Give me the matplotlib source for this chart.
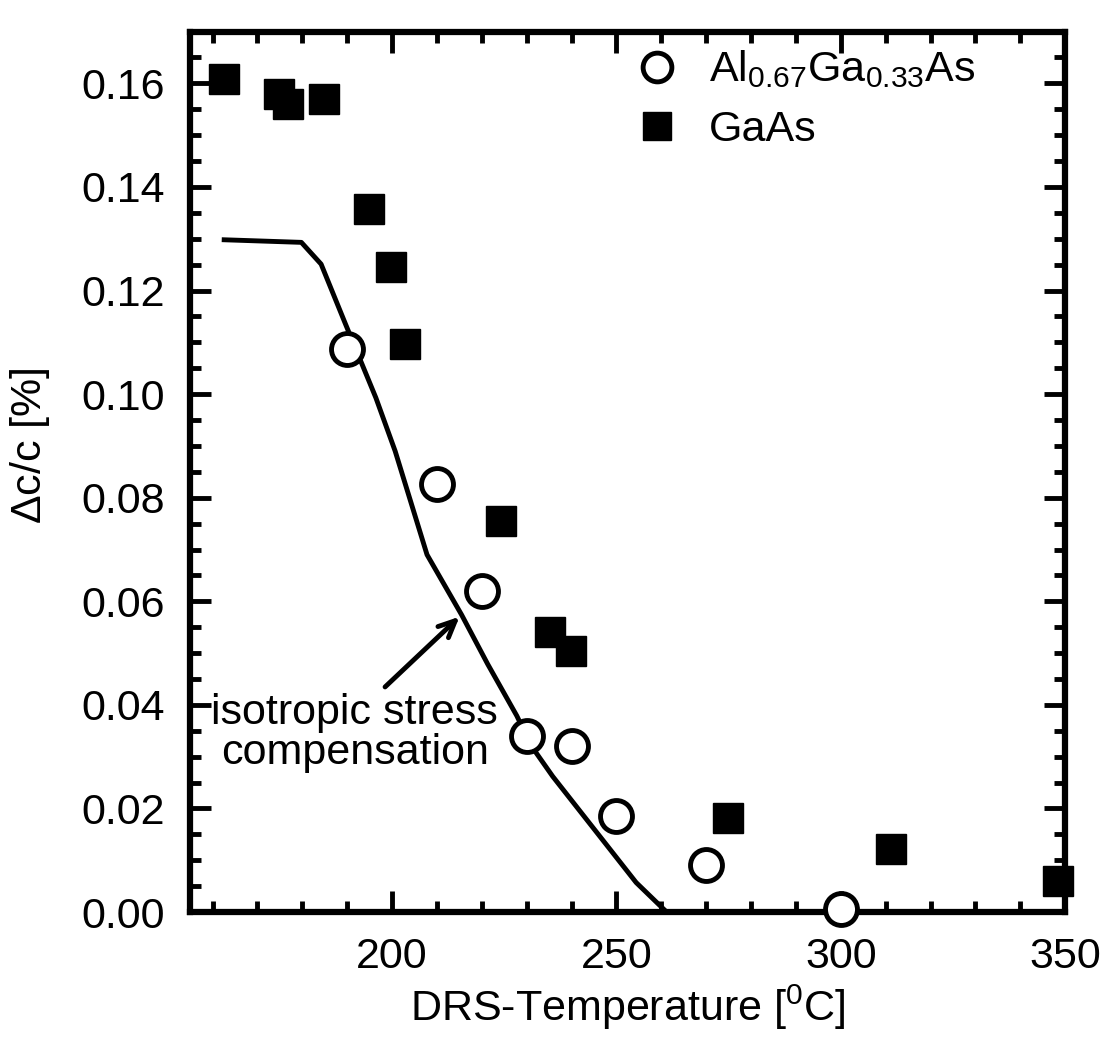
import matplotlib
matplotlib.use("Agg")
import matplotlib.pyplot as plt
from matplotlib.ticker import MultipleLocator

plt.rcParams['font.family'] = ['Liberation Sans', 'DejaVu Sans']
plt.rcParams['mathtext.fontset'] = 'custom'
plt.rcParams['mathtext.rm'] = 'Liberation Sans'
plt.rcParams['mathtext.it'] = 'Liberation Sans:italic'

# AlGaAs (open circles)
algaas_t = [190, 210, 220, 230, 240, 250, 270, 300]
algaas_dc = [0.1088, 0.0826, 0.0619, 0.0340, 0.0320, 0.0186, 0.0091, 0.0005]

# GaAs (filled squares)
gaas_t = [162.5, 174.8, 176.8, 184.9, 194.9, 199.8, 203.0, 224.2, 235.3, 239.9, 274.8, 311.1, 348.3]
gaas_dc = [0.1608, 0.1580, 0.1560, 0.1570, 0.1357, 0.1246, 0.1097, 0.0756, 0.0540, 0.0505, 0.0181,
           0.0121, 0.0060]

# isotropic stress compensation curve
curve_t = [162.6, 179.8, 184.2, 189.6, 196.4, 200.7, 207.8, 215.5, 221.3, 227.8, 231.1, 235.8, 254.4, 261.2]
curve_dc = [0.1298, 0.1293, 0.1251, 0.1136, 0.0993, 0.0890, 0.0690, 0.0574, 0.0479, 0.0379, 0.0320,
            0.0262, 0.0057, 0.0]

fs = 31

fig = plt.figure(figsize=(11.05, 10.52), dpi=100)
ax = fig.add_axes([0.172, 0.133, 0.792, 0.837])

ax.plot(curve_t, curve_dc, color='black', lw=3.5, zorder=2)
ax.plot(algaas_t, algaas_dc, 'o', ms=23, mfc='white', mec='black', mew=3.5,
        label=r'Al$_{\mathrm{0.67}}$Ga$_{\mathrm{0.33}}$As', zorder=3, clip_on=False)
ax.plot(gaas_t, gaas_dc, 's', ms=22, mfc='black', mec='black', mew=1,
        label='GaAs', zorder=3, clip_on=False)

ax.text(191.7, 0.0345, 'isotropic stress\ncompensation', ha='center', va='center',
        fontsize=fs, linespacing=1.0)
ax.annotate('', xy=(215.5, 0.0574), xytext=(198.0, 0.0431),
            arrowprops=dict(arrowstyle='->,head_length=1.2,head_width=0.55', color='black', lw=3.5))

ax.set_xlim(155, 350)
ax.set_ylim(0, 0.17)
ax.xaxis.set_major_locator(MultipleLocator(50))
ax.xaxis.set_minor_locator(MultipleLocator(10))
ax.yaxis.set_major_locator(MultipleLocator(0.02))
ax.yaxis.set_minor_locator(MultipleLocator(0.005))
ax.set_yticks([0.0, 0.02, 0.04, 0.06, 0.08, 0.10, 0.12, 0.14, 0.16])
ax.set_yticklabels(['0.00', '0.02', '0.04', '0.06', '0.08', '0.10', '0.12', '0.14', '0.16'])
ax.set_xticks([200, 250, 300, 350])

ax.tick_params(which='both', direction='in', top=True, right=True, labelsize=fs, width=3.5, pad=18)
ax.tick_params(which='major', length=15)
ax.tick_params(which='minor', length=8)
for s in ax.spines.values():
    s.set_linewidth(4.5)

ax.set_xlabel(r'DRS-Temperature [$^{\mathrm{0}}$C]', fontsize=fs, labelpad=4)
ax.set_ylabel(r'$\Delta$c/c [%]', fontsize=fs)
ax.yaxis.set_label_coords(-0.158, 0.53)

ax.legend(loc='upper left', bbox_to_anchor=(0.48, 1.005), frameon=False, fontsize=fs,
          handletextpad=0.6, labelspacing=0.45, borderaxespad=0.1, handlelength=1.2,
          markerscale=0.9)

fig.savefig('out.png', dpi=100)
